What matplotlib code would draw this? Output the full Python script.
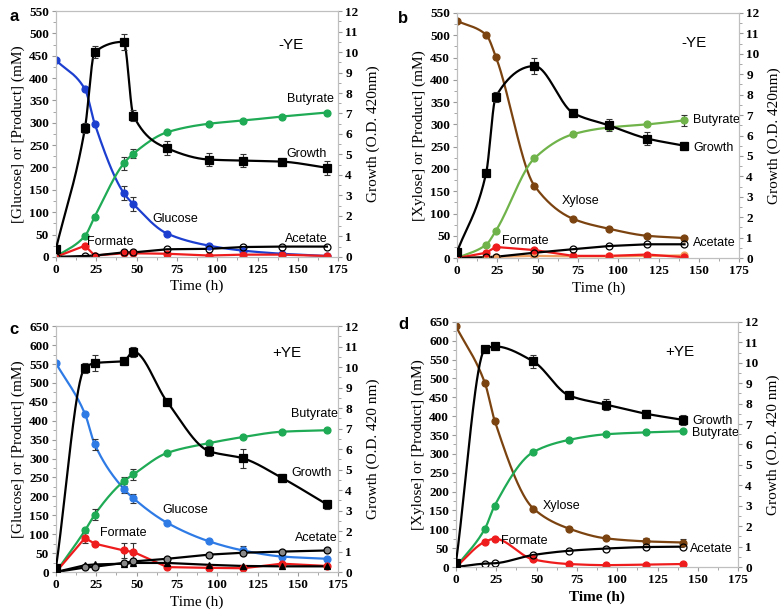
import matplotlib.pyplot as plt
import numpy as np
from matplotlib.ticker import MultipleLocator

plt.rcParams['font.family'] = ['Liberation Serif', 'DejaVu Serif']

# ---- panel a : glucose, -YE ----
t_a = [0, 18, 24, 42, 48, 69, 95, 116, 140, 168]
glc_a = [440, 375, 298, 143, 118, 52, 25, 14, 7, 2]
glc_a_err = [0, 0, 0, 15, 15, 0, 0, 0, 0, 0]
but_a = [0, 47, 90, 209, 231, 279, 298, 305, 314, 323]
but_a_err = [0, 0, 0, 15, 10, 0, 0, 0, 0, 0]
ace_a = [0, 2, 3, 10, 10, 17, 18, 22, 23, 23]
for_a = [0, 25, 3, 8, 8, 7, 3, 5, 5, 2]
gro_a = [0.4, 6.3, 10.0, 10.5, 6.9, 5.3, 4.75, 4.7, 4.65, 4.35]
gro_a_err = [0, 0.25, 0.3, 0.4, 0.25, 0.35, 0.3, 0.3, 0.2, 0.35]

# ---- panel b : xylose, -YE ----
t_b = [0, 18, 24, 48, 72, 94, 118, 141]
xyl_b = [532, 501, 452, 162, 88, 66, 50, 45]
xyl_b_err = [0, 0, 0, 0, 0, 0, 0, 5]
but_b = [0, 30, 61, 224, 278, 293, 300, 309]
but_b_err = [0, 0, 0, 0, 0, 0, 0, 12]
ace_b = [0, 2, 3, 12, 20, 27, 31, 31]
for_b = [0, 12, 25, 18, 5, 5, 8, 2]
oth_b = [0, 2, 3, 5, 4, 4, 5, 6]
gro_b = [0.3, 4.15, 7.9, 9.4, 7.1, 6.5, 5.85, 5.5]
gro_b_err = [0, 0, 0.25, 0.4, 0.2, 0.3, 0.3, 0.2]

# ---- panel c : glucose, +YE ----
t_c = [0, 18, 24, 42, 48, 69, 95, 116, 140, 168]
glc_c = [552, 418, 338, 220, 195, 130, 81, 57, 41, 35]
glc_c_err = [0, 0, 15, 12, 12, 0, 0, 11, 0, 0]
but_c = [0, 110, 152, 240, 258, 315, 341, 357, 371, 375]
but_c_err = [0, 0, 15, 12, 15, 0, 0, 0, 0, 0]
ace_c = [0, 12, 14, 24, 28, 35, 46, 51, 54, 57]
tri_c = [0, 18, 20, 22, 24, 24, 19, 16, 15, 15]
for_c = [0, 90, 75, 57, 53, 13, 11, 10, 22, 16]
for_c_err = [0, 12, 0, 20, 25, 0, 0, 0, 0, 0]
gro_c = [0.22, 9.97, 10.2, 10.3, 10.76, 8.3, 5.9, 5.55, 4.6, 3.3]
gro_c_err = [0, 0.25, 0.4, 0.2, 0.25, 0, 0.25, 0.45, 0.2, 0.2]

# ---- panel d : xylose, +YE ----
t_d = [0, 18, 24, 48, 70, 93, 118, 141]
xyl_d = [638, 487, 388, 155, 102, 76, 68, 65]
xyl_d_err = [0, 0, 0, 0, 0, 0, 8, 8]
but_d = [0, 102, 163, 305, 337, 352, 357, 360]
ace_d = [0, 9, 10, 32, 43, 49, 53, 54]
for_d = [0, 67, 75, 20, 8, 5, 6.5, 8]
gro_d = [0.22, 10.65, 10.8, 10.06, 8.4, 7.95, 7.5, 7.2]
gro_d_err = [0, 0, 0, 0.3, 0.15, 0.25, 0.2, 0.25]


def smooth(x, y, n=40):
    # monotone cubic (Fritsch-Carlson) so the curve does not overshoot
    x = np.asarray(x, float)
    y = np.asarray(y, float)
    h = np.diff(x)
    d = np.diff(y) / h
    m = np.zeros_like(y)
    m[0], m[-1] = d[0], d[-1]
    for i in range(1, len(x) - 1):
        if d[i - 1] * d[i] <= 0:
            m[i] = 0
        else:
            w1 = 2 * h[i] + h[i - 1]
            w2 = h[i] + 2 * h[i - 1]
            m[i] = (w1 + w2) / (w1 / d[i - 1] + w2 / d[i])
    xs, ys = [x[0]], [y[0]]
    s = np.linspace(0, 1, n)[1:]
    for i in range(len(x) - 1):
        h00 = 2 * s ** 3 - 3 * s ** 2 + 1
        h10 = s ** 3 - 2 * s ** 2 + s
        h01 = -2 * s ** 3 + 3 * s ** 2
        h11 = s ** 3 - s ** 2
        xs.extend(x[i] + s * h[i])
        ys.extend(h00 * y[i] + h10 * h[i] * m[i] + h01 * y[i + 1] + h11 * h[i] * m[i + 1])
    return np.array(xs), np.array(ys)


def series(ax, t, v, color, marker='o', mfc=None, ms=5, err=None, curve=True, lw=1.6, z=3):
    if curve:
        xs, ys = smooth(t, v)
    else:
        xs, ys = t, v
    ax.plot(xs, ys, color=color, lw=lw, zorder=z)
    if err is not None:
        ax.errorbar(t, v, yerr=err, fmt='none', ecolor='#333333', elinewidth=0.8,
                    capsize=2, capthick=0.8, zorder=z + 1)
    ax.plot(t, v, ls='none', marker=marker, ms=ms, color=color,
            mfc=color if mfc is None else mfc, mec=color if mfc is None else 'black',
            mew=0.9, zorder=z + 2)


def setup(ax, ymax, ylabel, rlabel, bold_x=False):
    ax.set_xlim(0, 175)
    ax.set_ylim(0, ymax)
    ax.xaxis.set_major_locator(MultipleLocator(25))
    ax.xaxis.set_minor_locator(MultipleLocator(12.5))
    ax.yaxis.set_major_locator(MultipleLocator(50))
    ax.yaxis.set_minor_locator(MultipleLocator(25))
    for sp in ax.spines.values():
        sp.set_color('#bfbfbf')
        sp.set_linewidth(0.8)
    ax.tick_params(which='both', direction='out', color='#999999', labelsize=9.5, pad=2)
    ax.tick_params(which='major', length=3)
    ax.tick_params(which='minor', length=2)
    for lab in ax.get_xticklabels() + ax.get_yticklabels():
        lab.set_fontweight('bold')
    ax.set_xlabel('Time (h)', fontsize=11, labelpad=3,
                  fontweight='bold' if bold_x else 'normal')
    ax.set_ylabel(ylabel, fontsize=11, labelpad=3)
    ax2 = ax.twinx()
    ax2.set_ylim(0, 12)
    ax2.yaxis.set_major_locator(MultipleLocator(1))
    ax2.yaxis.set_minor_locator(MultipleLocator(0.5))
    for sp in ax2.spines.values():
        sp.set_color('#bfbfbf')
        sp.set_linewidth(0.8)
    ax2.tick_params(which='both', direction='out', color='#999999', labelsize=9.5, pad=2)
    ax2.tick_params(which='major', length=3)
    ax2.tick_params(which='minor', length=2)
    for lab in ax2.get_yticklabels():
        lab.set_fontweight('bold')
    ax2.set_ylabel(rlabel, fontsize=11, labelpad=6)
    return ax2


def note(ax, x, y, s, size=9):
    ax.text(x, y, s, fontsize=size, family=['Liberation Sans', 'DejaVu Sans'],
            ha='left', va='center', zorder=10)


fig = plt.figure(figsize=(7.84, 6.16), dpi=100)

green = '#1faa55'
green_b = '#6fb34a'
blue = '#1d3fd0'
blue_c = '#2f7be6'
red = '#ee1c1c'
brown = '#7b4310'
orange = '#f0a060'

# a
ax = fig.add_axes([0.0714, 0.583, 0.36, 0.399])
ax2 = setup(ax, 550, '[Glucose] or [Product] (mM)', 'Growth (O.D. 420nm)')
series(ax, t_a, glc_a, blue, err=glc_a_err)
series(ax, t_a, but_a, green, err=but_a_err)
series(ax, t_a, for_a, red, curve=False)
series(ax, t_a, ace_a, 'black', mfc='none', curve=False)
series(ax2, t_a, gro_a, 'black', marker='s', ms=6, err=gro_a_err)
note(ax, 138, 474, '-YE', 11)
note(ax, 19, 34, 'Formate')
note(ax, 60, 85, 'Glucose')
note(ax, 143, 353, 'Butyrate')
note(ax, 143, 230, 'Growth')
note(ax, 142, 40, 'Acetate')
fig.text(0.012, 0.985, 'a', fontsize=12, fontweight='bold', family='Liberation Sans', va='top')

# b
ax = fig.add_axes([0.583, 0.581, 0.36, 0.398])
ax2 = setup(ax, 550, '[Xylose] or [Product] (mM)', 'Growth (O.D. 420nm)')
series(ax, t_b, xyl_b, brown, err=xyl_b_err)
series(ax, t_b, but_b, green_b, err=but_b_err)
series(ax, t_b, oth_b, orange, curve=False)
series(ax, t_b, for_b, red, curve=False)
series(ax, t_b, ace_b, 'black', mfc='none', curve=False)
series(ax2, t_b, gro_b, 'black', marker='s', ms=6, err=gro_b_err)
note(ax, 139, 483, '-YE', 11)
note(ax, 28, 38, 'Formate')
note(ax, 65, 128, 'Xylose')
note(ax, 146.5, 310, 'Butyrate')
note(ax, 146.5, 247, 'Growth')
note(ax, 146.5, 34, 'Acetate')
fig.text(0.508, 0.982, 'b', fontsize=12, fontweight='bold', family='Liberation Sans', va='top')

# c
ax = fig.add_axes([0.0714, 0.0714, 0.36, 0.399])
ax2 = setup(ax, 650, '[Glucose] or [Product] (mM)', 'Growth (O.D. 420 nm)')
series(ax, t_c, glc_c, blue_c, err=glc_c_err)
series(ax, t_c, but_c, green, err=but_c_err)
series(ax, t_c, for_c, red, err=for_c_err, curve=False)
series(ax, t_c, tri_c, 'black', marker='^', curve=False)
series(ax, t_c, ace_c, 'black', mfc='#888888', curve=False)
series(ax2, t_c, gro_c, 'black', marker='s', ms=6, err=gro_c_err)
note(ax, 134, 579, '+YE', 11)
note(ax, 27, 103, 'Formate')
note(ax, 66, 164, 'Glucose')
note(ax, 146, 417, 'Butyrate')
note(ax, 146, 262, 'Growth')
note(ax, 148, 90, 'Acetate')
fig.text(0.012, 0.478, 'c', fontsize=12, fontweight='bold', family='Liberation Sans', va='top')

# d
ax = fig.add_axes([0.5816, 0.0795, 0.36, 0.398])
ax2 = setup(ax, 650, '[Xylose] or [Product] (mM)', 'Growth (O.D. 420 nm)', bold_x=True)
series(ax, t_d, xyl_d, brown, err=xyl_d_err)
series(ax, t_d, but_d, green)
series(ax, t_d, for_d, red)
series(ax, t_d, ace_d, 'black', mfc='none')
series(ax2, t_d, gro_d, 'black', marker='s', ms=6, err=gro_d_err)
note(ax, 130, 570, '+YE', 11)
note(ax, 54, 162, 'Xylose')
note(ax, 28, 69, 'Formate')
note(ax, 146.5, 387, 'Growth')
note(ax, 146.5, 355, 'Butyrate')
note(ax, 145, 48, 'Acetate')
fig.text(0.508, 0.485, 'd', fontsize=12, fontweight='bold', family='Liberation Sans', va='top')

fig.savefig('out.png', dpi=100)
